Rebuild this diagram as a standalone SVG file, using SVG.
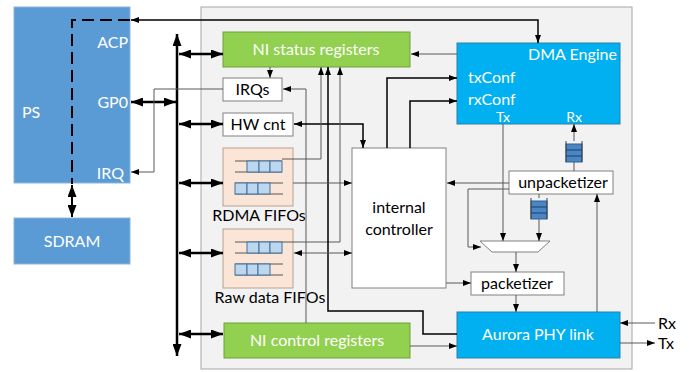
<svg xmlns="http://www.w3.org/2000/svg" width="689" height="372" viewBox="0 0 689 372">
<style>
text{font-family:Lato,"Open Sans","Liberation Sans",sans-serif;font-size:16px}
.w{fill:#fff}.k{fill:#000}
.c{text-anchor:middle}.r{text-anchor:end}
.thin{fill:none;stroke:#595959;stroke-width:1}
.med{fill:none;stroke:#000;stroke-width:1.5}
.bus{fill:none;stroke:#000;stroke-width:2.5}
.wb{fill:#fff;stroke:#808080;stroke-width:1}
.grn{fill:#92d050;stroke:#6f9f3a;stroke-width:1}
.cy{fill:#00b0f0;stroke:#2f7fa8;stroke-width:1}
.bl{fill:#5b9bd5;stroke:#8eb4dc;stroke-width:1}
.pe{fill:#fbe5d6;stroke:#b7a090;stroke-width:1}
.cell{fill:#bdd7ee;stroke:#41719c;stroke-width:1}
.ql{stroke:#595959;stroke-width:1}
</style>
<defs>
<marker id="a" viewBox="0 0 8 6" refX="8" refY="3" markerWidth="8" markerHeight="6" markerUnits="userSpaceOnUse" orient="auto-start-reverse"><path d="M0,0L8,3L0,6z" fill="#000"/></marker>
<marker id="ab" viewBox="0 0 12 9" refX="12" refY="4.5" markerWidth="12" markerHeight="9" markerUnits="userSpaceOnUse" orient="auto-start-reverse"><path d="M0,0L12,4.5L0,9z" fill="#000"/></marker>
<g id="fifo">
<rect x="0" y="0" width="16" height="18" fill="#4a86c6" stroke="#2f5f90"/>
<line x1="0" y1="6" x2="16" y2="6" stroke="#1f3f60"/>
<line x1="0" y1="12" x2="16" y2="12" stroke="#1f3f60"/>
<line x1="0" y1="-3" x2="0" y2="18" stroke="#404040"/>
<line x1="16" y1="-3" x2="16" y2="18" stroke="#404040"/>
</g>
</defs>
<rect width="689" height="372" fill="#fff"/>

<g id="fpga-bg"><rect x="201" y="7" width="431" height="362" fill="#f2f2f2" stroke="#a6a6a6" stroke-width="1"/></g>

<g id="ps"><rect class="bl" x="14" y="7" width="116" height="176"/>
<text class="w" x="22" y="118">PS</text>
<text class="w r" x="128" y="48">ACP</text>
<text class="w r" x="128" y="108">GP0</text>
<text class="w r" x="124" y="179">IRQ</text></g>

<g id="sdram"><rect class="bl" x="14" y="218" width="116" height="46"/>
<text class="w c" x="72" y="247">SDRAM</text></g>

<g id="ni-status"><rect class="grn" x="223" y="32" width="187" height="35"/>
<text class="w c" x="316" y="55">NI status registers</text></g>

<g id="irqs"><rect class="wb" x="223" y="78" width="59" height="23"/>
<text class="k c" x="252.5" y="95">IRQs</text></g>

<g id="hwcnt"><rect class="wb" x="223" y="113" width="70" height="23"/>
<text class="k c" x="258" y="130">HW cnt</text></g>

<g id="rdma-fifos"><rect class="pe" x="223" y="148" width="70" height="58"/>
<line class="ql" x1="235" y1="161" x2="282" y2="161"/><line class="ql" x1="235" y1="172" x2="282" y2="172"/>
<rect class="cell" x="247" y="161" width="12" height="11"/><rect class="cell" x="259" y="161" width="11" height="11"/><rect class="cell" x="270" y="161" width="12" height="11"/>
<line class="ql" x1="235" y1="183" x2="283" y2="183"/><line class="ql" x1="235" y1="194" x2="283" y2="194"/>
<rect class="cell" x="235" y="183" width="12" height="11"/><rect class="cell" x="247" y="183" width="11" height="11"/><rect class="cell" x="258" y="183" width="12" height="11"/>
<text class="k c" x="259" y="221">RDMA FIFOs</text></g>

<g id="raw-fifos"><rect class="pe" x="223" y="229" width="70" height="59"/>
<line class="ql" x1="235" y1="242" x2="282" y2="242"/><line class="ql" x1="235" y1="253" x2="282" y2="253"/>
<rect class="cell" x="247" y="242" width="12" height="11"/><rect class="cell" x="259" y="242" width="11" height="11"/><rect class="cell" x="270" y="242" width="12" height="11"/>
<line class="ql" x1="235" y1="264" x2="283" y2="264"/><line class="ql" x1="235" y1="275" x2="283" y2="275"/>
<rect class="cell" x="235" y="264" width="12" height="11"/><rect class="cell" x="247" y="264" width="11" height="11"/><rect class="cell" x="258" y="264" width="12" height="11"/>
<text class="k c" x="270" y="303">Raw data FIFOs</text></g>

<g id="ni-control"><rect class="grn" x="224" y="323" width="186" height="35"/>
<text class="w c" x="317" y="346">NI control registers</text></g>

<g id="internal-controller"><rect class="wb" x="352" y="148" width="94" height="140"/>
<text class="k c" x="399" y="213">internal</text>
<text class="k c" x="399" y="235">controller</text></g>

<g id="dma"><rect class="cy" x="457" y="43" width="163" height="81"/>
<text class="w r" x="617" y="60">DMA Engine</text>
<text class="w" x="468" y="83">txConf</text>
<text class="w" x="468" y="105">rxConf</text>
<text class="w c" x="503" y="122" style="font-size:14px">Tx</text>
<text class="w c" x="574" y="122" style="font-size:14px">Rx</text></g>

<g id="unpacketizer"><rect class="wb" x="509" y="171" width="104" height="23"/>
<text class="k c" x="563" y="188">unpacketizer</text></g>

<g id="fifo-rx"><use href="#fifo" x="566" y="144"/></g>
<g id="fifo-tx"><use href="#fifo" x="531" y="201"/></g>

<g id="mux"><path d="M480,241H550L538,252H492Z" fill="#fff" stroke="#808080"/></g>

<g id="packetizer"><rect class="wb" x="471" y="272" width="93" height="23"/>
<text class="k c" x="517" y="289">packetizer</text></g>

<g id="aurora"><rect class="cy" x="457" y="312" width="163" height="46"/>
<text class="w c" x="538" y="340">Aurora PHY link</text></g>

<g id="ext-labels"><text class="k" x="658" y="329">Rx</text><text class="k" x="658" y="349">Tx</text></g>

<g id="connectors">
<path class="bus" d="M177,34V356" marker-start="url(#ab)" marker-end="url(#ab)"/>
<path class="bus" d="M179,54H223" marker-start="url(#ab)" marker-end="url(#ab)"/>
<path class="bus" d="M131,102H176" marker-start="url(#ab)" marker-end="url(#ab)"/>
<path class="bus" d="M179,124H223" marker-start="url(#ab)" marker-end="url(#ab)"/>
<path class="bus" d="M179,183H223" marker-start="url(#ab)" marker-end="url(#ab)"/>
<path class="bus" d="M179,253H223" marker-start="url(#ab)" marker-end="url(#ab)"/>
<path class="bus" d="M179,334H223" marker-start="url(#ab)" marker-end="url(#ab)"/>
<path class="med" d="M131,20H538V43" marker-start="url(#a)" marker-end="url(#a)"/>
<path d="M130,20H72V184" fill="none" stroke="#000" stroke-width="2" stroke-dasharray="12,6"/>
<path class="med" style="stroke-width:2" d="M72,185V217" marker-start="url(#ab)" marker-end="url(#ab)"/>
<path class="thin" d="M223,89H154V172H131" marker-end="url(#a)"/>
<path class="thin" d="M270,67V78" marker-end="url(#a)"/>
<path class="thin" d="M306,323V89H283" marker-end="url(#a)"/>
<path class="med" d="M294,124H363V148" marker-start="url(#a)" marker-end="url(#a)"/>
<path class="thin" d="M282,159H321V67" marker-end="url(#a)"/>
<path class="thin" d="M282,242H340V67" marker-end="url(#a)"/>
<path class="med" d="M457,334H423V311H328V67" marker-end="url(#a)"/>
<path class="thin" d="M457,54H411" marker-end="url(#a)"/>
<path class="med" d="M387,148V78H457" marker-end="url(#a)"/>
<path class="med" d="M410,148V101H457" marker-end="url(#a)"/>
<path class="thin" d="M293,183H352" marker-end="url(#a)"/>
<path class="thin" d="M294,253H352" marker-start="url(#a)" marker-end="url(#a)"/>
<path class="thin" d="M509,183H447" marker-end="url(#a)"/>
<path class="thin" d="M503,124V241" marker-end="url(#a)"/>
<path class="thin" d="M574,171V162M574,141V124" marker-end="url(#a)"/>
<path class="thin" d="M539,194V198M539,219V241" marker-end="url(#a)"/>
<path class="thin" d="M509,189H468V247H481" marker-end="url(#a)"/>
<path class="thin" d="M516,252V272" marker-end="url(#a)"/>
<path class="thin" d="M446,283H471" marker-end="url(#a)"/>
<path class="thin" d="M516,295V312" marker-end="url(#a)"/>
<path class="thin" d="M597,312V194" marker-end="url(#a)"/>
<path class="thin" d="M410,346H457" marker-end="url(#a)"/>
<path class="thin" d="M655,323H620" marker-end="url(#a)"/>
<path class="thin" d="M620,343H655" marker-end="url(#a)"/>
</g>
</svg>
